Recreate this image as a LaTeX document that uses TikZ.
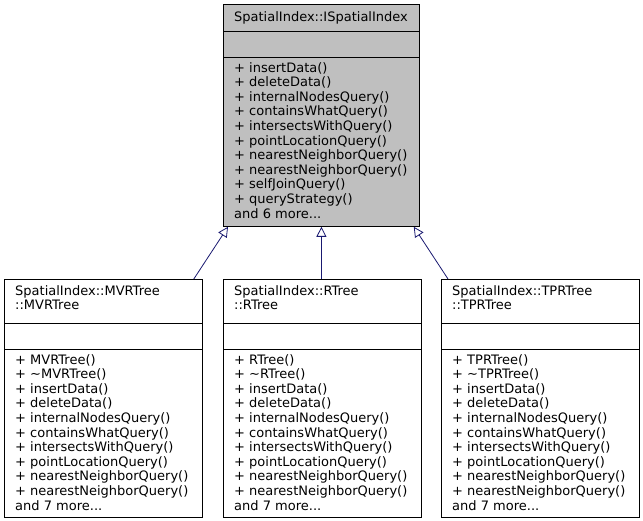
\documentclass[tikz,border=0pt]{standalone}
\usepackage{fontspec}
\setmainfont{DejaVu Sans}
\usetikzlibrary{arrows.meta}
\begin{document}
\begin{tikzpicture}[x=1pt,y=-1pt,
  box/.style={draw=black,line width=0.8pt,inner sep=0pt,anchor=north west},
  txt/.style={anchor=north west,align=left,inner sep=0pt,font=\fontsize{13}{14.6}\selectfont},
  ttl/.style={anchor=north,align=center,inner sep=0pt,font=\fontsize{13}{14.6}\selectfont},
  inh/.style={draw={rgb,255:red,25;green,25;blue,112},line width=0.8pt,-{Triangle[open,length=10pt,width=10pt]}}]
\useasboundingbox (0,0) rectangle (643,521);
% top
\node[box,fill={rgb,255:red,191;green,191;blue,191},minimum width=196pt,minimum height=222pt] (top) at (223,4) {};
\draw[line width=0.8pt] (223,31) -- (419,31) (223,57) -- (419,57);
\node[ttl] (toptitle) at (321,11) {SpatialIndex::ISpatialIndex};
\node[txt] (topm) at (234,62) {+ insertData()\\+ deleteData()\\+ internalNodesQuery()\\+ containsWhatQuery()\\+ intersectsWithQuery()\\+ pointLocationQuery()\\+ nearestNeighborQuery()\\+ nearestNeighborQuery()\\+ selfJoinQuery()\\+ queryStrategy()\\and 6 more...};
% bottom boxes
\foreach \n/\xl/\a/\b/\c in {mvr/4/MVRTree/::MVRTree/MVRTree,rt/223/RTree/::RTree/RTree,tpr/441/TPRTree/::TPRTree/TPRTree}{
  \node[box,fill=white,minimum width=198pt,minimum height=238pt] (\n) at (\xl,279) {};
  \draw[line width=0.8pt] (\xl,323) -- +(198,0) (\xl,349) -- +(198,0);
  \node[txt] (\n t) at (\xl+11,285) {SpatialIndex::\a\\\b};
  \node[txt] (\n m) at (\xl+11,354) {+ \c()\\+ \textasciitilde\c()\\+ insertData()\\+ deleteData()\\+ internalNodesQuery()\\+ containsWhatQuery()\\+ intersectsWithQuery()\\+ pointLocationQuery()\\+ nearestNeighborQuery()\\+ nearestNeighborQuery()\\and 7 more...};
}
\draw[inh] ([xshift=-9pt]mvr.north east) -- ([xshift=5pt]top.south west);
\draw[inh] ([xshift=-1pt]rt.north) -- (top.south);
\draw[inh] ([xshift=7pt]tpr.north west) -- ([xshift=-6pt]top.south east);
\end{tikzpicture}
\end{document}
